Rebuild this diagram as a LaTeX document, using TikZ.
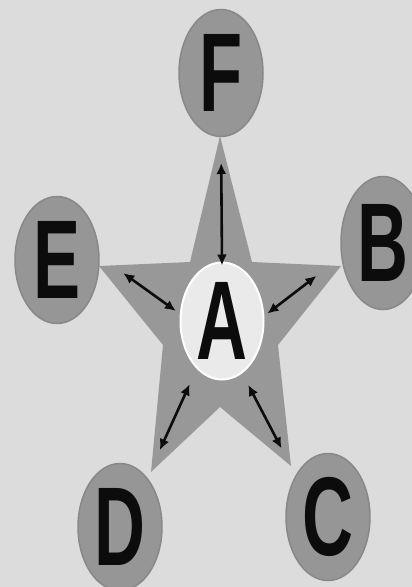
\documentclass[tikz,border=0pt]{standalone}
\usepackage{fontspec}
\setmainfont{Liberation Sans}
\usetikzlibrary{shapes.geometric,arrows.meta}
\definecolor{bgc}{RGB}{220,220,220}
\definecolor{starc}{RGB}{152,152,152}
\definecolor{nodec}{RGB}{150,150,150}
\definecolor{nodeb}{RGB}{136,136,136}
\definecolor{centc}{RGB}{234,234,234}
\definecolor{inkc}{RGB}{12,12,12}
\newcommand{\bigletter}[1]{\scalebox{0.63}[1]{\fontsize{112}{112}\selectfont\bfseries #1}}
\begin{document}
\begin{tikzpicture}[x=1pt,y=-1pt,
  outernode/.style={ellipse, fill=nodec, draw=nodeb, line width=1.5pt, inner sep=0pt, outer sep=0pt,
    minimum width=84pt, minimum height=127pt, text=inkc},
  hubnode/.style={ellipse, fill=centc, draw=white, line width=2pt, inner sep=0pt, outer sep=0pt,
    minimum width=83pt, minimum height=117pt, text=inkc},
  link/.style={{Latex[length=11pt,width=10pt]}-{Latex[length=11pt,width=10pt]}, line width=2.6pt, draw=inkc}]
\useasboundingbox (0,0) rectangle (412,587);
\clip (0,0) rectangle (412,587);
\fill[bgc] (0,0) rectangle (412,587);
% star
\fill[starc] (220,136) -- (252,262) -- (341,266) -- (278,345) -- (291,466) -- (220,407)
  -- (151,472) -- (163,345) -- (99,266) -- (190,262) -- cycle;
% nodes
\node[outernode] (F) at (221,73) {\bigletter{F}};
\node[outernode] (E) at (57,260) {\bigletter{E}};
\node[outernode, minimum height=133pt] (B) at (383,243) {\bigletter{B}};
\node[outernode] (D) at (120,527) {\bigletter{D}};
\node[outernode] (C) at (328,517) {\bigletter{C}};
\node[hubnode] (A) at (222,321) {\bigletter{A}};
% connectors
\draw[link, shorten <=-3pt, shorten >=26.5pt] (A.north) -- (F.south);
\draw[link, shorten <=6pt, shorten >=30pt] (A.171) -- (E.6);
\draw[link, shorten <=5pt, shorten >=32pt] (A.6) -- (B.198);
\draw[link, shorten <=18pt, shorten >=31pt] (A.242) -- (D.61);
\draw[link, shorten <=14pt, shorten >=31pt] (A.291) -- (C.128);
\end{tikzpicture}
\end{document}
